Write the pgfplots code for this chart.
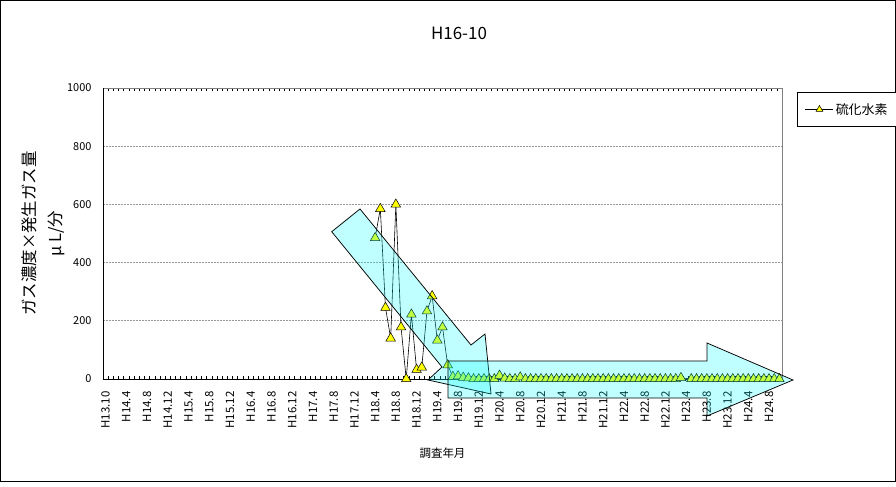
\documentclass[border=0pt]{standalone}
\usepackage{fontspec}
\setmainfont{Noto Sans CJK JP}
\usepackage{pgfplots}
\pgfplotsset{compat=1.18}
\usepackage{pgfplotstable}
\definecolor{aqua}{RGB}{0,255,255}
\definecolor{mkyellow}{RGB}{255,255,0}

% 硫化水素 (index = category position, 0 = H13.10)
\pgfplotstableread{
idx val
52 485
53 585
54 245
55 140
56 600
57 178
58 0
59 222
60 32
61 40
62 233
63 285
64 133
65 178
66 48
67 8
68 10
69 5
70 3
71 0
72 0
73 0
74 0
75 0
76 12
77 2
78 0
79 0
80 6
81 0
82 0
83 0
84 0
85 0
86 0
87 0
88 0
89 0
90 0
91 0
92 0
93 0
94 0
95 0
96 0
97 0
98 0
99 0
100 0
101 0
102 0
103 0
104 0
105 0
106 0
107 0
108 0
109 0
110 0
111 4
113 0
114 0
115 0
116 0
117 0
118 0
119 0
120 0
121 0
122 0
123 0
124 0
125 0
126 0
127 0
128 0
129 0
130 0
}\hsdata

\begin{document}
\begin{tikzpicture}[x=1bp,y=1bp]
\useasboundingbox (0,0) rectangle (896,487);
\draw[black, line width=0.75bp] (0.5,6) rectangle (895.5,486.5);
\node[font=\fontsize{17}{20}\selectfont] at (459,454) {H16-10};

\begin{axis}[
  at={(103bp,108bp)}, anchor=south west,
  width=679bp, height=291bp, scale only axis,
  xmin=-0.5, xmax=130.5,
  ymin=0, ymax=1000,
  clip=false,
  axis line style={draw=gray, line width=0.75bp},
  xtick={0,4,...,128},
  xticklabels={H13.10,H14.4,H14.8,H14.12,H15.4,H15.8,H15.12,H16.4,H16.8,H16.12,
    H17.4,H17.8,H17.12,H18.4,H18.8,H18.12,H19.4,H19.8,H19.12,H20.4,H20.8,H20.12,
    H21.4,H21.8,H21.12,H22.4,H22.8,H22.12,H23.4,H23.8,H23.12,H24.4,H24.8},
  minor xtick={-0.5,0.5,...,130.5},
  major tick length=0pt,
  minor tick length=3bp,
  tick align=inside,
  minor x tick style={black, line width=0.6bp},
  ytick={0,200,...,1000},
  ymajorgrids,
  major grid style={gray!80, dash pattern=on 2bp off 1bp, line width=0.75bp},
  /pgf/number format/assume math mode=true,
  /pgf/number format/set thousands separator={},
  tick label style={black},
  xticklabel style={rotate=90, anchor=east, font=\fontsize{11.5}{13}\selectfont},
  yticklabel style={font=\fontsize{11}{13}\selectfont},
  xticklabel shift={9bp},
  yticklabel shift={8bp},
  xlabel={調査年月},
  ylabel={ガス濃度×発生ガス量\\μ L/分},
  every axis x label/.style={at={(axis description cs:0.5,-0.254)}, anchor=center,
    font=\fontsize{11.5}{13}\selectfont},
  every axis y label/.style={at={(axis description cs:-0.088,0.5)}, rotate=90,
    anchor=center, align=center, font=\fontsize{16.5}{26}\selectfont},
  legend style={at={(1.022,0.986)}, anchor=north west, draw=black, fill=white,
    font=\fontsize{13}{15}\selectfont, inner xsep=8bp, inner ysep=9bp},
  legend image code/.code={
    \draw[mark repeat=2, mark phase=2, #1, mark size=4bp]
      plot coordinates {(0bp,0bp) (14bp,0bp) (28bp,0bp)};
  },
]
\addplot[black, line width=0.6bp, mark=triangle*, mark size=5.5bp,
  mark options={fill=mkyellow, draw=black, line width=0.5bp}]
  table[x=idx, y=val] {\hsdata};
\addlegendentry{硫化水素}
\draw[black, line width=0.75bp] (rel axis cs:0,0) -- (rel axis cs:0,1);
\draw[black, line width=0.75bp] (rel axis cs:0,0) -- (rel axis cs:1,0);
\end{axis}

% overlay arrows
\filldraw[fill=aqua, fill opacity=0.25, draw=black, line width=0.75bp]
  (331.7,255.3) -- (360,278) -- (471,142) -- (485,153) -- (491,93)
  -- (428,107) -- (442,120) -- cycle;
\filldraw[fill=aqua, fill opacity=0.25, draw=black, line width=0.75bp]
  (448,126) -- (707,126) -- (707,144) -- (793,107) -- (707,71)
  -- (707,89) -- (448,89) -- cycle;
\end{tikzpicture}
\end{document}
